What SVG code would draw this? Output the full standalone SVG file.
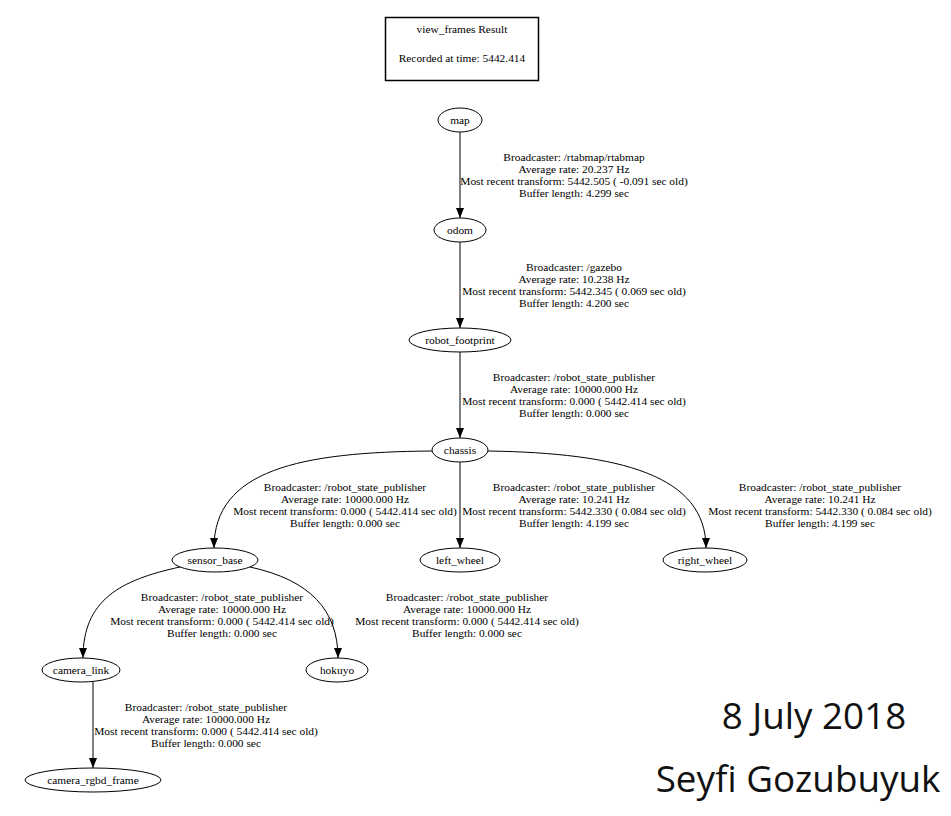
<svg xmlns="http://www.w3.org/2000/svg" width="951" height="816" viewBox="0 0 951 816">
<style>
.n ellipse{fill:none;stroke:#000;stroke-width:1}
.t{font-family:"Liberation Serif",serif;font-size:11.4px;fill:#000;text-anchor:middle}
.e{fill:none;stroke:#000;stroke-width:1}
.big{font-family:"Open Sans",sans-serif;font-size:36.8px;fill:#111;text-anchor:middle}
</style>
<defs>
<marker id="ah" viewBox="0 0 10 8" refX="10" refY="4" markerWidth="10" markerHeight="8" markerUnits="userSpaceOnUse" orient="auto">
<path d="M0,0 L10,4 L0,8 Z" fill="#000"/>
</marker>
</defs>
<rect width="951" height="816" fill="#fff"/>
<g id="title">
<rect x="385.5" y="17.5" width="153" height="63" fill="none" stroke="#000" stroke-width="1.5"/>
<text class="t" x="462" y="33">view_frames Result</text>
<text class="t" x="462" y="62">Recorded at time: 5442.414</text>
</g>
<g id="connectors">
<path class="e" d="M460,132 L460,218" marker-end="url(#ah)"/>
<path class="e" d="M460,242 L460,328" marker-end="url(#ah)"/>
<path class="e" d="M460,352 L460,438" marker-end="url(#ah)"/>
<path class="e" d="M460,462 L460,548" marker-end="url(#ah)"/>
<path class="e" d="M432,451 C300,452 214,470 214,548" marker-end="url(#ah)"/>
<path class="e" d="M488,451 C620,453 706,475 706,548" marker-end="url(#ah)"/>
<path class="e" d="M180,567 C120,580 83,600 83,658" marker-end="url(#ah)"/>
<path class="e" d="M250,567 C310,580 338,610 338,658" marker-end="url(#ah)"/>
<path class="e" d="M93,682 L93,768" marker-end="url(#ah)"/>
<g id="lbl-map-odom">
<text class="t" x="574" y="161">Broadcaster: /rtabmap/rtabmap</text>
<text class="t" x="574" y="173">Average rate: 20.237 Hz</text>
<text class="t" x="574" y="185">Most recent transform: 5442.505 ( -0.091 sec old)</text>
<text class="t" x="574" y="197">Buffer length: 4.299 sec</text>
</g>
<g id="lbl-odom-rf">
<text class="t" x="574" y="271">Broadcaster: /gazebo</text>
<text class="t" x="574" y="283">Average rate: 10.238 Hz</text>
<text class="t" x="574" y="295">Most recent transform: 5442.345 ( 0.069 sec old)</text>
<text class="t" x="574" y="307">Buffer length: 4.200 sec</text>
</g>
<g id="lbl-rf-chassis">
<text class="t" x="574" y="381">Broadcaster: /robot_state_publisher</text>
<text class="t" x="574" y="393">Average rate: 10000.000 Hz</text>
<text class="t" x="574" y="405">Most recent transform: 0.000 ( 5442.414 sec old)</text>
<text class="t" x="574" y="417">Buffer length: 0.000 sec</text>
</g>
<g id="lbl-chassis-sb">
<text class="t" x="345" y="491">Broadcaster: /robot_state_publisher</text>
<text class="t" x="345" y="503">Average rate: 10000.000 Hz</text>
<text class="t" x="345" y="515">Most recent transform: 0.000 ( 5442.414 sec old)</text>
<text class="t" x="345" y="527">Buffer length: 0.000 sec</text>
</g>
<g id="lbl-chassis-lw">
<text class="t" x="574" y="491">Broadcaster: /robot_state_publisher</text>
<text class="t" x="574" y="503">Average rate: 10.241 Hz</text>
<text class="t" x="574" y="515">Most recent transform: 5442.330 ( 0.084 sec old)</text>
<text class="t" x="574" y="527">Buffer length: 4.199 sec</text>
</g>
<g id="lbl-chassis-rw">
<text class="t" x="820" y="491">Broadcaster: /robot_state_publisher</text>
<text class="t" x="820" y="503">Average rate: 10.241 Hz</text>
<text class="t" x="820" y="515">Most recent transform: 5442.330 ( 0.084 sec old)</text>
<text class="t" x="820" y="527">Buffer length: 4.199 sec</text>
</g>
<g id="lbl-sb-cl">
<text class="t" x="222" y="601">Broadcaster: /robot_state_publisher</text>
<text class="t" x="222" y="613">Average rate: 10000.000 Hz</text>
<text class="t" x="222" y="625">Most recent transform: 0.000 ( 5442.414 sec old)</text>
<text class="t" x="222" y="637">Buffer length: 0.000 sec</text>
</g>
<g id="lbl-sb-hk">
<text class="t" x="467" y="601">Broadcaster: /robot_state_publisher</text>
<text class="t" x="467" y="613">Average rate: 10000.000 Hz</text>
<text class="t" x="467" y="625">Most recent transform: 0.000 ( 5442.414 sec old)</text>
<text class="t" x="467" y="637">Buffer length: 0.000 sec</text>
</g>
<g id="lbl-cl-crf">
<text class="t" x="206" y="711">Broadcaster: /robot_state_publisher</text>
<text class="t" x="206" y="723">Average rate: 10000.000 Hz</text>
<text class="t" x="206" y="735">Most recent transform: 0.000 ( 5442.414 sec old)</text>
<text class="t" x="206" y="747">Buffer length: 0.000 sec</text>
</g>
</g>
<g id="map" class="n"><ellipse cx="460" cy="120" rx="22" ry="12"/><text class="t" x="460" y="124">map</text></g>
<g id="odom" class="n"><ellipse cx="460" cy="230" rx="26" ry="12"/><text class="t" x="460" y="234">odom</text></g>
<g id="robot_footprint" class="n"><ellipse cx="460" cy="340" rx="51" ry="12"/><text class="t" x="460" y="344">robot_footprint</text></g>
<g id="chassis" class="n"><ellipse cx="460" cy="450" rx="28" ry="12"/><text class="t" x="460" y="454">chassis</text></g>
<g id="sensor_base" class="n"><ellipse cx="215" cy="560" rx="43" ry="12"/><text class="t" x="215" y="564">sensor_base</text></g>
<g id="left_wheel" class="n"><ellipse cx="460" cy="560" rx="40" ry="12"/><text class="t" x="460" y="564">left_wheel</text></g>
<g id="right_wheel" class="n"><ellipse cx="705" cy="560" rx="42" ry="12"/><text class="t" x="705" y="564">right_wheel</text></g>
<g id="camera_link" class="n"><ellipse cx="81" cy="670" rx="39" ry="12"/><text class="t" x="81" y="674">camera_link</text></g>
<g id="hokuyo" class="n"><ellipse cx="337" cy="670" rx="31" ry="12"/><text class="t" x="337" y="674">hokuyo</text></g>
<g id="camera_rgbd_frame" class="n"><ellipse cx="93" cy="780" rx="68" ry="12"/><text class="t" x="93" y="784">camera_rgbd_frame</text></g>
<g id="caption">
<text class="big" x="814" y="729">8 July 2018</text>
<text class="big" x="798" y="792">Seyfi Gozubuyuk</text>
</g>
</svg>
